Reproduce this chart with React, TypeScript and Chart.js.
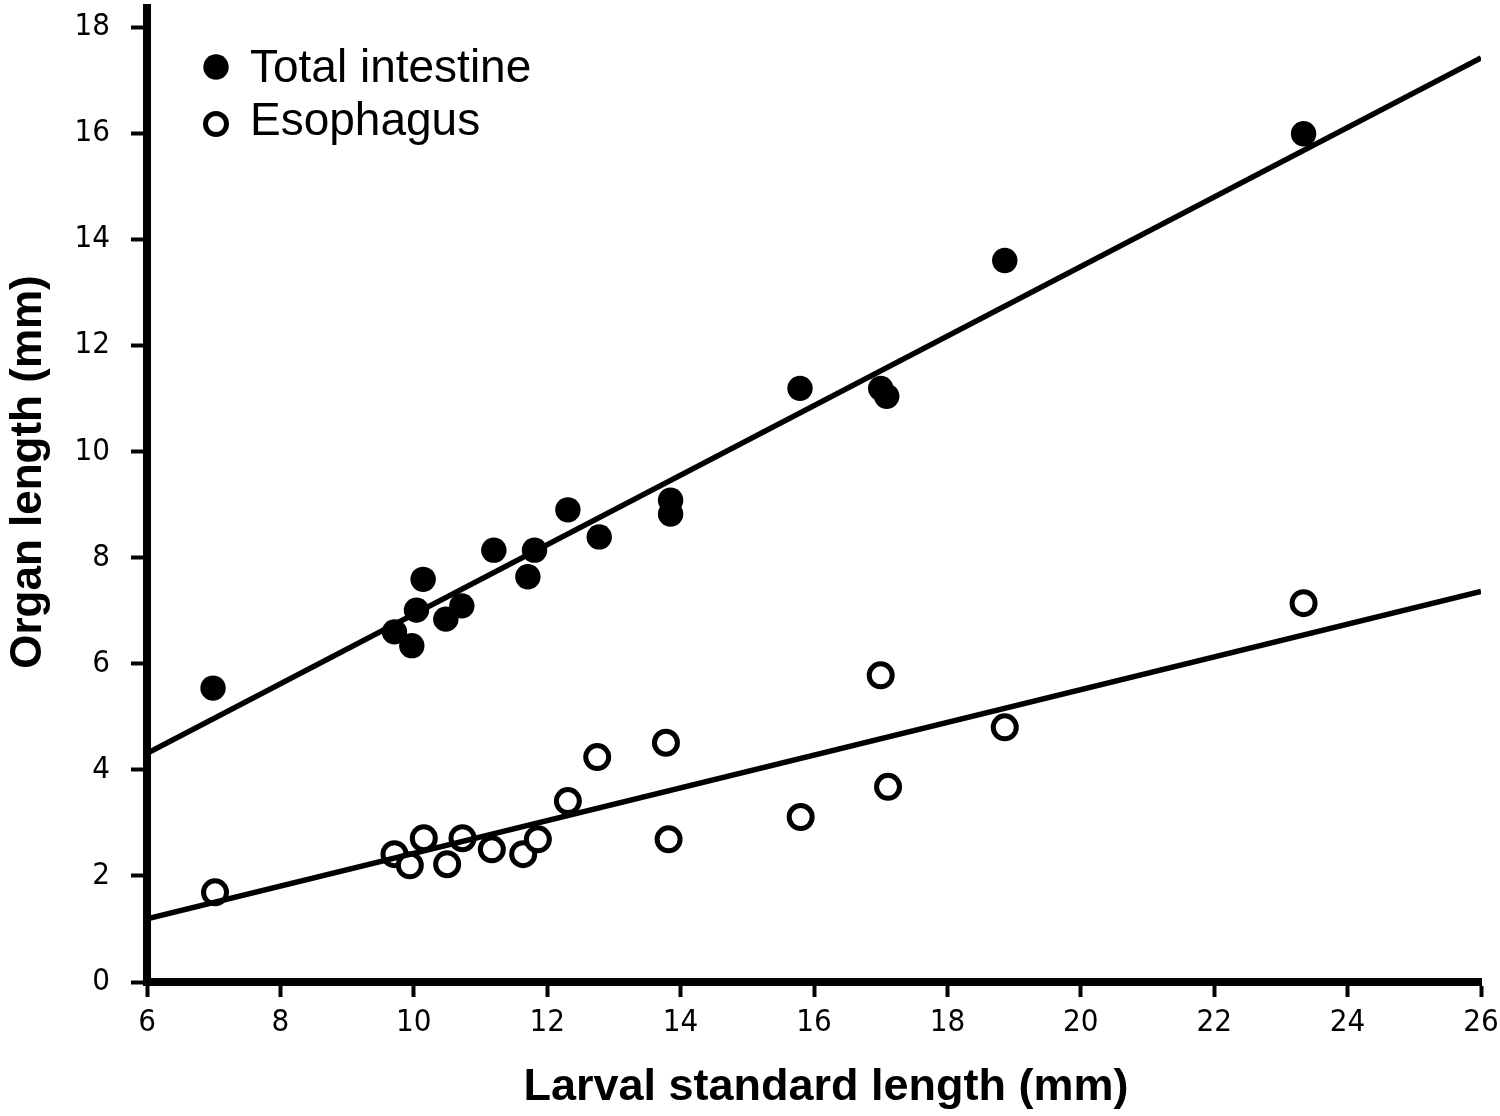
import React, { useEffect, useRef } from "react";
import { Chart, registerables } from "chart.js";

Chart.register(...registerables);

// Total intestine (filled circles)
const intestineX = [6.99, 9.71, 9.97, 10.04, 10.14, 10.48, 10.72, 11.2, 11.71, 11.81, 12.31, 12.78, 13.85, 13.85, 15.79, 17.0, 17.09, 18.86, 23.34];
const intestineY = [5.54, 6.6, 6.34, 7.01, 7.59, 6.84, 7.09, 8.14, 7.64, 8.14, 8.9, 8.39, 9.08, 8.82, 11.19, 11.19, 11.04, 13.6, 15.99];

// Esophagus (open circles)
const esophagusX = [7.02, 9.71, 9.94, 10.15, 10.5, 10.73, 11.17, 11.64, 11.86, 12.31, 12.75, 13.78, 13.82, 15.8, 17.0, 17.11, 18.86, 23.34];
const esophagusY = [1.69, 2.41, 2.2, 2.71, 2.22, 2.71, 2.5, 2.41, 2.69, 3.41, 4.24, 4.51, 2.69, 3.11, 5.78, 3.68, 4.8, 7.14];

// regression lines: [intercept, slope], drawn over fitRange
const fitRange = [6, 26];
const intestineFit = [0.377, 0.6555];
const esophagusFit = [-0.66, 0.3085];

const seriesLabels = ["Total intestine", "Esophagus"];
const xTitle = "Larval standard length (mm)";
const yTitle = "Organ length (mm)";

const TICK_FONT = "'Liberation Sans Narrow', 'DejaVu Sans Condensed', 'Liberation Sans', sans-serif";
const TEXT_FONT = "'Liberation Sans', Arial, sans-serif";

const toPoints = (xs: number[], ys: number[]) => xs.map((x, i) => ({ x, y: ys[i] }));
const fitPoints = (fit: number[]) => fitRange.map((x) => ({ x, y: fit[0] + fit[1] * x }));

const overlay = {
  id: "overlay",
  afterDraw(chart: Chart) {
    const { ctx } = chart;
    ctx.save();
    ctx.fillStyle = "#000";
    ctx.strokeStyle = "#000";

    // axis titles
    ctx.font = `bold 45px ${TEXT_FONT}`;
    ctx.textAlign = "center";
    ctx.textBaseline = "alphabetic";
    ctx.fillText(xTitle, 826, 1100);

    ctx.save();
    ctx.font = `bold 44px ${TEXT_FONT}`;
    ctx.translate(41, 472);
    ctx.rotate(-Math.PI / 2);
    ctx.fillText(yTitle, 0, 0);
    ctx.restore();

    // legend
    ctx.font = `46px ${TEXT_FONT}`;
    ctx.textAlign = "left";
    ctx.beginPath();
    ctx.arc(216, 67, 12.7, 0, Math.PI * 2);
    ctx.fill();
    ctx.fillText(seriesLabels[0], 250, 82);

    ctx.beginPath();
    ctx.lineWidth = 5;
    ctx.arc(216, 124, 10.5, 0, Math.PI * 2);
    ctx.stroke();
    ctx.fillText(seriesLabels[1], 250, 135);
    ctx.restore();
  },
};

const App = () => {
  const chartRef = useRef<HTMLCanvasElement | null>(null);
  const chartInstance = useRef<Chart | null>(null);

  useEffect(() => {
    document.body.style.margin = "0";
    if (chartInstance.current) chartInstance.current.destroy();
    const ctx = chartRef.current?.getContext("2d");
    if (!ctx) return;

    const gridOpts = (len: number) => ({
      display: true,
      drawOnChartArea: false,
      drawTicks: true,
      tickLength: len,
      tickWidth: 4,
      tickColor: "#000",
    });

    chartInstance.current = new Chart(ctx, {
      type: "scatter",
      data: {
        datasets: [
          {
            label: seriesLabels[0] + " fit",
            data: fitPoints(intestineFit),
            showLine: true,
            borderColor: "#000",
            borderWidth: 5.5,
            pointRadius: 0,
          },
          {
            label: seriesLabels[1] + " fit",
            data: fitPoints(esophagusFit),
            showLine: true,
            borderColor: "#000",
            borderWidth: 5.5,
            pointRadius: 0,
          },
          {
            label: seriesLabels[0],
            data: toPoints(intestineX, intestineY),
            pointRadius: 12.7,
            pointBackgroundColor: "#000",
            pointBorderWidth: 0,
          },
          {
            label: seriesLabels[1],
            data: toPoints(esophagusX, esophagusY),
            pointRadius: 11.5,
            pointBackgroundColor: "#fff",
            pointBorderColor: "#000",
            pointBorderWidth: 5,
          },
        ],
      },
      options: {
        animation: false,
        responsive: true,
        maintainAspectRatio: false,
        layout: { autoPadding: false, padding: { top: 8, right: 19, left: 0, bottom: 0 } },
        plugins: {
          legend: { display: false },
          tooltip: { enabled: false },
        },
        scales: {
          x: {
            type: "linear",
            min: 6,
            max: 26,
            ticks: {
              stepSize: 2,
              color: "#000",
              padding: 7,
              font: { family: TICK_FONT, size: 31 },
            },
            grid: gridOpts(15),
            border: { display: true, width: 8, color: "#000" },
            afterFit: (s: any) => {
              s.height = 134;
              s.paddingLeft = 0;
              s.paddingRight = 0;
            },
          },
          y: {
            type: "linear",
            min: 0,
            max: 18.36,
            ticks: {
              stepSize: 2,
              includeBounds: false,
              color: "#000",
              padding: 21,
              font: { family: TICK_FONT, size: 31 },
            },
            grid: gridOpts(16),
            border: { display: true, width: 8, color: "#000" },
            afterBuildTicks: (s: any) => {
              s.ticks = s.ticks.filter((t: any) => t.value % 2 === 0);
            },
            afterFit: (s: any) => {
              s.width = 147;
              s.paddingTop = 0;
              s.paddingBottom = 0;
            },
          },
        },
      },
      plugins: [overlay],
    });

    return () => {
      if (chartInstance.current) chartInstance.current.destroy();
      chartInstance.current = null;
    };
  }, []);

  return (
    <div style={{ width: 1500, height: 1116, position: "relative", background: "#fff" }}>
      <canvas ref={chartRef}></canvas>
    </div>
  );
};

export default App;
